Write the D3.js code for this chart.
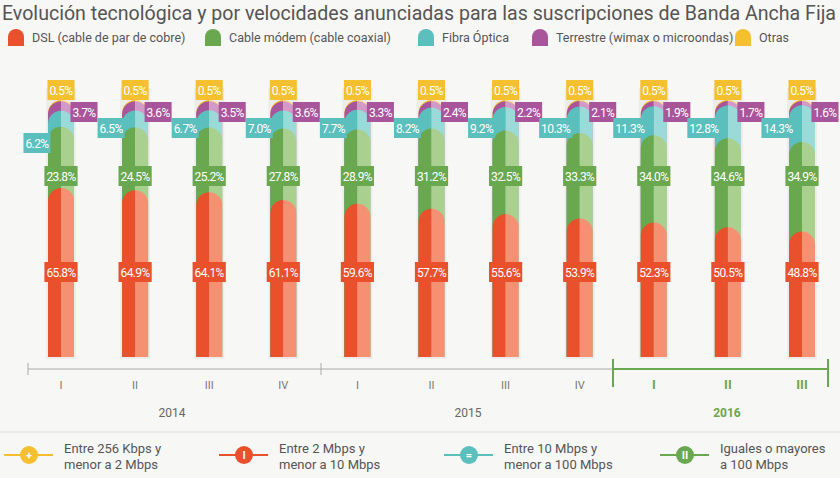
<html>
<head><meta charset="utf-8"><script src="https://d3js.org/d3.v7.min.js"></script>
<style>body{margin:0;background:#f7f7f5;font-family:Roboto,sans-serif}</style></head>
<body><svg id="c" width="840" height="478"></svg>
<script>
var quarters = ["I","II","III","IV","I","II","III","IV","I","II","III"];
var years = ["2014","2015","2016"];
var dsl = [65.8,64.9,64.1,61.1,59.6,57.7,55.6,53.9,52.3,50.5,48.8];
var cable = [23.8,24.5,25.2,27.8,28.9,31.2,32.5,33.3,34.0,34.6,34.9];
var fibra = [6.2,6.5,6.7,7.0,7.7,8.2,9.2,10.3,11.3,12.8,14.3];
var terrestre = [3.7,3.6,3.5,3.6,3.3,2.4,2.2,2.1,1.9,1.7,1.6];
var otras = [0.5,0.5,0.5,0.5,0.5,0.5,0.5,0.5,0.5,0.5,0.5];
var seriesNames = ["DSL (cable de par de cobre)","Cable módem (cable coaxial)","Fibra Óptica","Terrestre (wimax o microondas)","Otras"];
var speedNames = [["Entre 256 Kbps y","menor a 2 Mbps"],["Entre 2 Mbps y","menor a 10 Mbps"],["Entre 10 Mbps y","menor a 100 Mbps"],["Iguales o mayores","a 100 Mbps"]];

var dark = ["#e9502c","#6aa84f","#5bbfbd","#a9559b","#f5c02f"];
var light = ["#f59073","#a9d08e","#9adbd9","#d39ac9","#f9dc7f"];
var speedCol = ["#f5c02f","#e9502c","#5bbfbd","#6aa84f"];
var speedSym = ["+","I","=","II"];

var svg = d3.select("#c");
svg.append("text").attr("x",2).attr("y",20).attr("font-size",21)
  .attr("textLength",834).attr("lengthAdjust","spacingAndGlyphs")
  .attr("fill","#555").text("Evolución tecnológica y por velocidades anunciadas para las suscripciones de Banda  Ancha Fija");

// top legend
var lx = [8,205,418,532,735];
seriesNames.forEach(function(n,i){
  var g = svg.append("g").attr("transform","translate("+lx[i]+",38)");
  g.append("path").attr("d","M0,8 V-1 A8,8 0 0 1 16,-1 V8 Z").attr("fill",dark[i]);
  g.append("text").attr("x",24).attr("y",4).attr("font-size",12.5).attr("fill","#555").text(n);
});

var x = d3.scalePoint().domain(d3.range(11)).range([61,802]);
var y = d3.scaleLinear().domain([0,100]).range([357,100]);
var bw = 26;
var series = [dsl,cable,fibra,terrestre,otras];

d3.range(11).forEach(function(i){
  var cx = x(i);
  var g = svg.append("g");
  g.append("rect").attr("x",cx-bw/2-2).attr("y",y(100)-12).attr("width",bw+4).attr("height",y(0)-y(100)+14).attr("fill","#ececea");
  var cum = [], s = 0;
  series.forEach(function(a){ cum.push([s, s + a[i]]); s += a[i]; });
  for (var k = 4; k >= 0; k--) {
    var top = y(cum[k][1]), bot = y(0), r = bw/2;
    [[cx-bw/2, dark[k], "L"],[cx, light[k], "R"]].forEach(function(p){
      var x0 = p[0];
      var d = p[2]==="L"
        ? "M"+x0+","+bot+" V"+(top+r)+" A"+r+","+r+" 0 0 1 "+(x0+r)+","+top+" V"+bot+" Z"
        : "M"+x0+","+bot+" V"+top+" A"+r+","+r+" 0 0 1 "+(x0+r)+","+(top+r)+" V"+bot+" Z";
      g.append("path").attr("d",d).attr("fill",p[1]);
    });
  }
  function label(tx,ty,txt,col){
    var t = g.append("text").attr("x",tx).attr("y",ty+4.5).attr("text-anchor","middle")
      .attr("font-size",12).attr("fill","#fff").attr("letter-spacing",-0.6).text(txt+"%");
    var w = t.node().getComputedTextLength()+4;
    g.insert("rect",function(){return t.node();}).attr("x",tx-w/2).attr("y",ty-10).attr("width",w).attr("height",20).attr("fill",col);
  }
  label(cx,272,dsl[i].toFixed(1),dark[0]);
  label(cx,176,cable[i].toFixed(1),dark[1]);
  label(cx-24,i===0?143:128,fibra[i].toFixed(1),dark[2]);
  label(cx+23,112,terrestre[i].toFixed(1),dark[3]);
  label(cx,90,otras[i].toFixed(1),dark[4]);
});

// x axis
svg.append("line").attr("x1",28).attr("x2",613).attr("y1",369).attr("y2",369).attr("stroke","#aaa");
[28,321].forEach(function(v){svg.append("line").attr("x1",v).attr("x2",v).attr("y1",363).attr("y2",375).attr("stroke","#aaa");});
svg.append("line").attr("x1",613).attr("x2",828).attr("y1",369).attr("y2",369).attr("stroke","#6aa84f").attr("stroke-width",2);
[613,828].forEach(function(v){svg.append("line").attr("x1",v).attr("x2",v).attr("y1",359).attr("y2",387).attr("stroke","#6aa84f").attr("stroke-width",2);});
quarters.forEach(function(q,i){
  svg.append("text").attr("x",x(i)).attr("y",389).attr("text-anchor","middle").attr("font-size",i>7?13:11)
    .attr("font-weight",i>7?"bold":"normal").attr("fill",i>7?"#6aa84f":"#777").text(q);
});
var yx = [172,468,727];
years.forEach(function(yv,i){
  svg.append("text").attr("x",yx[i]).attr("y",417).attr("text-anchor","middle").attr("font-size",12)
    .attr("font-weight",i===2?"bold":"normal").attr("fill",i===2?"#6aa84f":"#666").text(yv);
});

// bottom legend
svg.append("line").attr("x1",0).attr("x2",840).attr("y1",432).attr("y2",432).attr("stroke","#ddd");
var bx = [4,219,444,660];
speedNames.forEach(function(n,i){
  var g = svg.append("g").attr("transform","translate("+bx[i]+",455)");
  g.append("line").attr("x1",0).attr("x2",49).attr("stroke",speedCol[i]).attr("stroke-width",2);
  g.append("circle").attr("cx",25).attr("r",9).attr("fill",speedCol[i]);
  g.append("text").attr("x",25).attr("y",4).attr("text-anchor","middle").attr("font-size",11).attr("font-weight","bold").attr("fill","#fff").text(speedSym[i]);
  n.forEach(function(line,j){
    g.append("text").attr("x",60).attr("y",-2+j*16).attr("font-size",13).attr("fill","#555").text(line);
  });
});
</script></body></html>
